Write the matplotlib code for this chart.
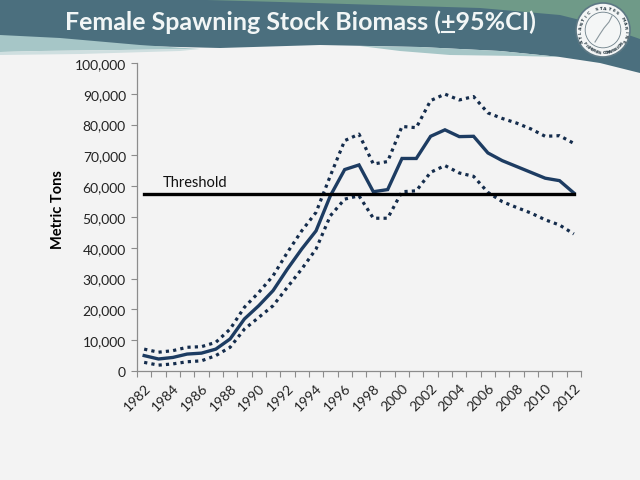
import numpy as np
import matplotlib
matplotlib.use("Agg")
import matplotlib.pyplot as plt
from matplotlib.patches import Circle, Polygon
from matplotlib.ticker import FuncFormatter, FixedLocator

# data (metric tons)
years = list(range(1982, 2013))
ssb = [5000, 3900, 4400, 5500, 5800, 7100, 10400, 16900, 21200, 26100,
       33100, 39600, 45500, 56900, 65400, 66900, 58200, 58900, 69000, 69000,
       76200, 78300, 76100, 76200, 70800, 68300, 66400, 64500, 62600, 61800,
       57800]
upper = [7100, 6100, 6600, 7700, 7900, 9300, 13600, 20700, 25500, 30900,
         38500, 45500, 51500, 63400, 74800, 76900, 67200, 68000, 79400, 79000,
         87800, 89900, 88000, 89100, 83800, 82000, 80500, 78600, 76200, 76400,
         73900]
lower = [2800, 1900, 2300, 3000, 3300, 5000, 7700, 13600, 17400, 21200,
         27200, 33100, 39600, 50400, 55800, 56900, 49600, 49600, 58200, 58500,
         64500, 66700, 64300, 63200, 58000, 55000, 53100, 51300, 49100, 47400,
         44500]
threshold = 57500
yticks = list(range(0, 100001, 10000))

title = "Female Spawning Stock Biomass (+95%CI)"
navy = "#1d3c62"
navy_dots = "#142c4c"
W, H = 640, 481
tsize = 18

fig = plt.figure(figsize=(W / 100, H / 100), dpi=100)
fig.patch.set_facecolor("#f3f3f3")

# slide background / header band, pixel coords
bg = fig.add_axes([0, 0, 1, 1])
bg.set_xlim(0, W)
bg.set_ylim(H, 0)
bg.axis("off")
bg.set_facecolor("#f3f3f3")

def shape(pts, color, z=0):
    bg.add_patch(Polygon(pts, closed=True, facecolor=color, edgecolor="none", zorder=z))

shape([(0, 0), (640, 0), (640, 74), (600, 64), (560, 58), (500, 52), (420, 48),
       (320, 46), (220, 49), (140, 47), (60, 40), (0, 38)], "#4b6f7e", 1)
shape([(170, 0), (640, 0), (640, 40), (600, 26), (560, 16), (480, 9), (380, 6),
       (280, 3)], "#6f9a88", 2)
shape([(0, 36), (60, 39), (140, 46), (200, 50), (120, 51), (40, 52), (0, 53)],
      "#a6c6c7", 2)
shape([(200, 50), (120, 51), (40, 52), (0, 53), (0, 56), (80, 55), (180, 52)],
      "#cfdfe0", 2)
shape([(360, 47), (420, 48), (500, 52), (560, 58), (520, 57), (450, 56), (400, 52)],
      "#a6c6c7", 2)

# title with underlined plus sign
tt = bg.text(300, 22, title, color="#f2f6f6", fontsize=tsize, fontweight="bold",
             family="Lato", ha="center", va="center", zorder=5)
fig.canvas.draw()
r = fig.canvas.get_renderer()
inv = bg.transData.inverted()
ext = tt.get_window_extent(r)
pre = bg.text(0, 0, title[:title.index("+")], fontsize=tsize, fontweight="bold", family="Lato")
plus = bg.text(0, 0, title[:title.index("+") + 1], fontsize=tsize, fontweight="bold", family="Lato")
w0 = pre.get_window_extent(r).width
w1 = plus.get_window_extent(r).width
pre.remove()
plus.remove()
x0 = inv.transform((ext.x0 + w0, 0))[0]
x1 = inv.transform((ext.x0 + w1, 0))[0]
bg.plot([x0 + 1, x1 - 1], [33, 33], color="#f2f6f6", lw=1.5, zorder=5)

# logo
cx, cy, rad = 603, 31, 27
bg.add_patch(Circle((cx, cy), rad, facecolor="#f4f6f6", edgecolor="#5d7884", lw=1.2, zorder=6))
bg.add_patch(Circle((cx, cy), rad * 0.66, facecolor="none", edgecolor="#6c7f88", lw=0.6, zorder=7))
for txt, a0, a1, flip in [("ATLANTIC STATES MARINE", 205, -25, False),
                          ("FISHERIES COMMISSION", 215, 325, True)]:
    angs = np.linspace(a0, a1, len(txt))
    for ch, a in zip(txt, angs):
        rr = rad * 0.83
        px = cx + rr * np.cos(np.radians(a))
        py = cy - rr * np.sin(np.radians(a))
        rot = a - 90 if not flip else a + 90
        bg.text(px, py, ch, fontsize=3.2, color="#2e3f48", fontweight="bold",
                ha="center", va="center", rotation=rot, zorder=8)
bg.plot([cx - 8, cx - 3, cx + 1, cx + 6, cx + 9], [cy + 12, cy + 4, cy - 2, cy - 8, cy - 14],
        color="#8a979d", lw=0.8, zorder=8)

# chart
ax = fig.add_axes([137 / W, 1 - 372 / H, 444 / W, 308 / H])
ax.set_facecolor("none")
x = np.arange(len(years))
ax.plot(x, upper, color=navy_dots, lw=2.3, linestyle=(0, (1, 1.3)), zorder=3)
ax.plot(x, lower, color=navy_dots, lw=2.3, linestyle=(0, (1, 1.3)), zorder=3)
ax.plot(x, ssb, color=navy, lw=2.4, zorder=4, solid_joinstyle="miter")
ax.plot([x[0], x[-1]], [threshold, threshold], color="black", lw=2.4, zorder=5)
ax.text(1.3, threshold + 1700, "Threshold", fontsize=10.5, family="Lato",
        va="bottom", ha="left", color="#111111")

ax.set_xlim(-0.5, len(years) - 0.5)
ax.set_ylim(0, 100000)
ax.set_yticks(yticks)
ax.yaxis.set_major_formatter(FuncFormatter(lambda v, p: f"{int(v):,}"))
ax.xaxis.set_major_locator(FixedLocator(np.arange(-0.5, len(years), 1.0)))
ax.xaxis.set_major_formatter(FuncFormatter(lambda v, p: ""))
ax.xaxis.set_minor_locator(FixedLocator(x[::2]))
ax.set_xticks(x[::2], [str(y) for y in years[::2]], minor=True)
for lab in ax.get_xticklabels(minor=True):
    lab.set_rotation(45)
    lab.set_ha("right")
    lab.set_va("top")
    lab.set_rotation_mode("anchor")
ax.tick_params(axis="x", which="minor", length=0, pad=7, labelsize=10, labelcolor="#222222")
ax.tick_params(axis="x", which="major", length=4, color="#8c8c8c", direction="out")
ax.tick_params(axis="y", length=4, color="#8c8c8c", labelsize=10, labelcolor="#222222", pad=4)
for lab in ax.get_xticklabels(minor=True) + ax.get_yticklabels():
    lab.set_family("Lato")
for s in ["top", "right"]:
    ax.spines[s].set_visible(False)
for s in ["left", "bottom"]:
    ax.spines[s].set_color("#8c8c8c")
    ax.spines[s].set_linewidth(0.9)
ax.set_ylabel("Metric Tons", fontsize=10.5, fontweight="bold", family="Lato")
ax.yaxis.set_label_coords(-0.162, 0.526)

fig.savefig("out.png", dpi=100, facecolor=fig.get_facecolor())
